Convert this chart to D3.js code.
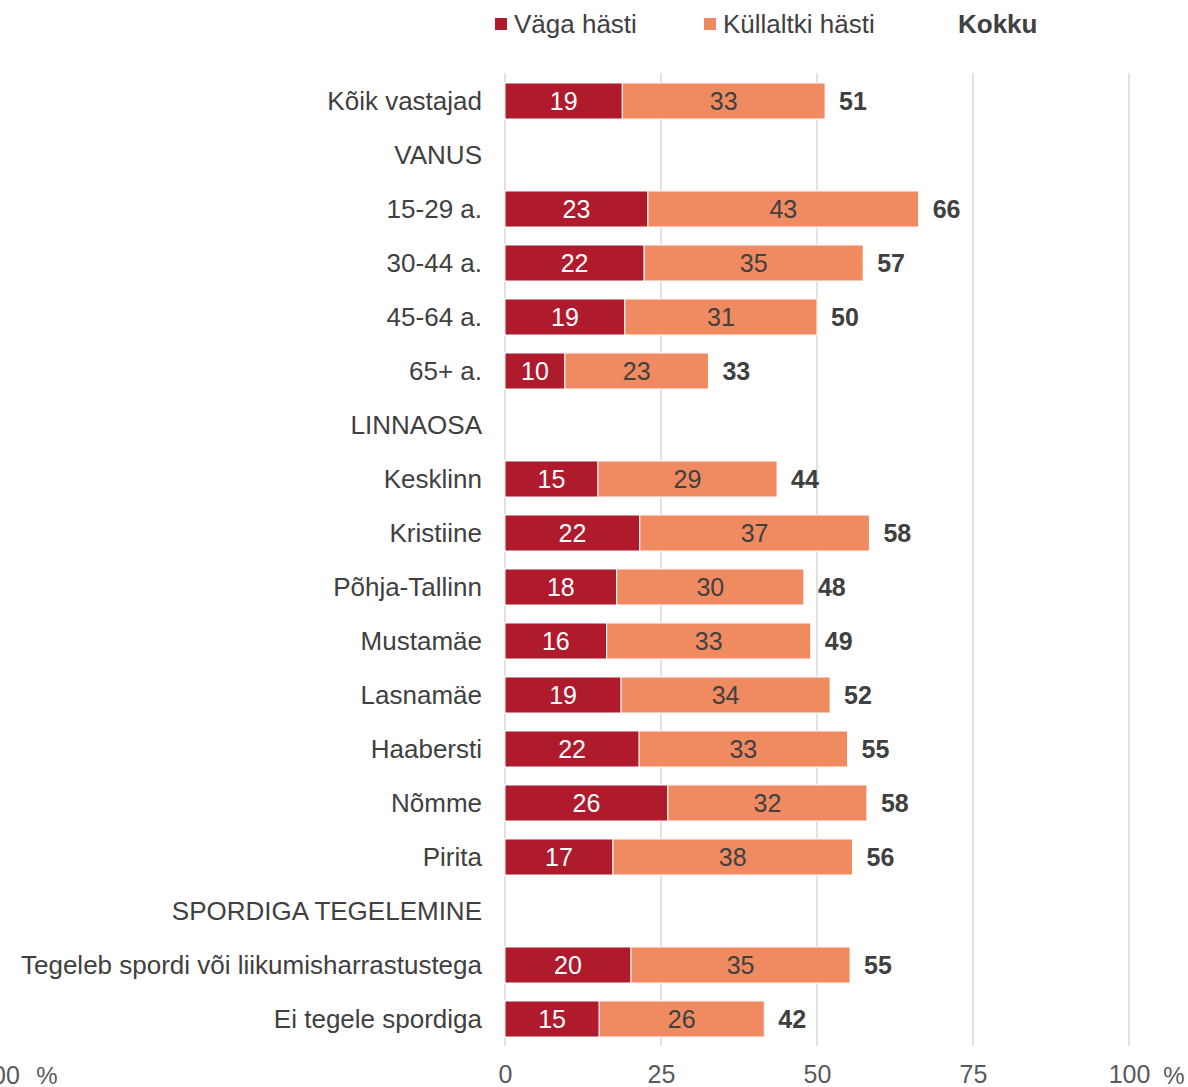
<!DOCTYPE html>
<html><head><meta charset="utf-8">
<script src="https://cdn.jsdelivr.net/npm/d3@7"></script>
<style>
html,body{margin:0;padding:0;background:#fff;overflow:hidden}
text{font-family:"Liberation Sans",Arial,sans-serif}
</style></head><body>
<svg id="c" width="1188" height="1087"></svg>
<script>
const categories = ["Kõik vastajad","VANUS","15-29 a.","30-44 a.","45-64 a.","65+ a.","LINNAOSA","Kesklinn","Kristiine","Põhja-Tallinn","Mustamäe","Lasnamäe","Haabersti","Nõmme","Pirita","SPORDIGA TEGELEMINE","Tegeleb spordi või liikumisharrastustega","Ei tegele spordiga"];
const vagaHasti =      [18.8,null,22.9,22.3,19.2,9.6,null,14.9,21.6,17.9,16.3,18.6,21.5,26.1,17.3,null,20.2,15.1];
const kullaltkiHasti = [32.5,null,43.4,35.1,30.8,23.0,null,28.7,36.8,30.0,32.7,33.5,33.4,31.9,38.4,null,35.1,26.45];
const seriesNames = ["Väga hästi","Küllaltki hästi"];
const totalName = "Kokku";
const xTicks = [0,25,50,75,100];
const colors = ["#B01A2D","#F08A60"];

const svg = d3.select("#c");
const x = d3.scaleLinear().domain([0,100]).range([505,1129]);
const y = d3.scaleBand().domain(categories).range([74,1046]).paddingInner(0.333).paddingOuter(0.1665);

// gridlines
svg.append("g").selectAll("line").data(xTicks).join("line")
  .attr("x1",d=>x(d)).attr("x2",d=>x(d)).attr("y1",73).attr("y2",1046)
  .attr("stroke","#d9d9d9").attr("stroke-width",1.5);

// axis labels
const ax = d3.axisBottom(x).tickValues(xTicks).tickSize(0).tickPadding(0).tickFormat(d3.format("d"));
const axg = svg.append("g").attr("transform","translate(0,1062)").call(ax);
axg.select(".domain").remove();
axg.selectAll("text").attr("font-size",25).attr("fill","#595959").attr("dy","0.85em").style("font-family","'Liberation Sans',Arial,sans-serif");
svg.append("text").attr("x",1174).attr("y",1084).attr("text-anchor","middle").attr("font-size",24).attr("fill","#595959").text("%");
svg.append("text").attr("x",-1).attr("y",1084).attr("text-anchor","middle").attr("font-size",25).attr("fill","#595959").text("100");
svg.append("text").attr("x",47).attr("y",1084).attr("text-anchor","middle").attr("font-size",24).attr("fill","#595959").text("%");

// data rows
const rows = categories.map((c,i)=>({c, a:vagaHasti[i], b:kullaltkiHasti[i]}));
const bh = y.bandwidth();

// category labels
svg.append("g").selectAll("text").data(rows).join("text")
  .attr("x",482).attr("y",d=>y(d.c)+bh/2).attr("dy","0.35em")
  .attr("text-anchor","end").attr("font-size",26).attr("fill","#404040").text(d=>d.c);

const data = rows.filter(d=>d.a!=null);
const g = svg.append("g");
g.selectAll("rect.a").data(data).join("rect").attr("class","a")
  .attr("x",x(0)).attr("y",d=>y(d.c)).attr("height",bh)
  .attr("width",d=>x(d.a)-x(0)).attr("fill",colors[0]).attr("stroke","#fff").attr("stroke-width",1);
g.selectAll("rect.b").data(data).join("rect").attr("class","b")
  .attr("x",d=>x(d.a)).attr("y",d=>y(d.c)).attr("height",bh)
  .attr("width",d=>x(d.a+d.b)-x(d.a)).attr("fill",colors[1]).attr("stroke","#fff").attr("stroke-width",1);

g.selectAll("text.a").data(data).join("text")
  .attr("x",d=>x(d.a/2)).attr("y",d=>y(d.c)+bh/2).attr("dy","0.37em")
  .attr("text-anchor","middle").attr("font-size",25).attr("fill","#fff").text(d=>Math.round(d.a));
g.selectAll("text.b").data(data).join("text")
  .attr("x",d=>x(d.a+d.b/2)).attr("y",d=>y(d.c)+bh/2).attr("dy","0.37em")
  .attr("text-anchor","middle").attr("font-size",25).attr("fill","#404040").text(d=>Math.round(d.b));
g.selectAll("text.t").data(data).join("text")
  .attr("x",d=>x(d.a+d.b)+14).attr("y",d=>y(d.c)+bh/2).attr("dy","0.37em")
  .attr("text-anchor","start").attr("font-size",25).attr("font-weight","bold").attr("fill","#404040")
  .text(d=>Math.round(Math.round((d.a+d.b)*10)/10));

// legend
const leg = svg.append("g");
const lx = [495,704];
seriesNames.forEach((n,i)=>{
  leg.append("rect").attr("x",lx[i]).attr("y",18).attr("width",12).attr("height",12).attr("fill",colors[i]);
  leg.append("text").attr("x",lx[i]+19).attr("y",24).attr("dy","0.36em").attr("font-size",26).attr("fill","#404040").text(n);
});
leg.append("text").attr("x",958).attr("y",24).attr("dy","0.36em").attr("font-size",26).attr("font-weight","bold").attr("fill","#404040").text(totalName);
</script>
</body></html>
